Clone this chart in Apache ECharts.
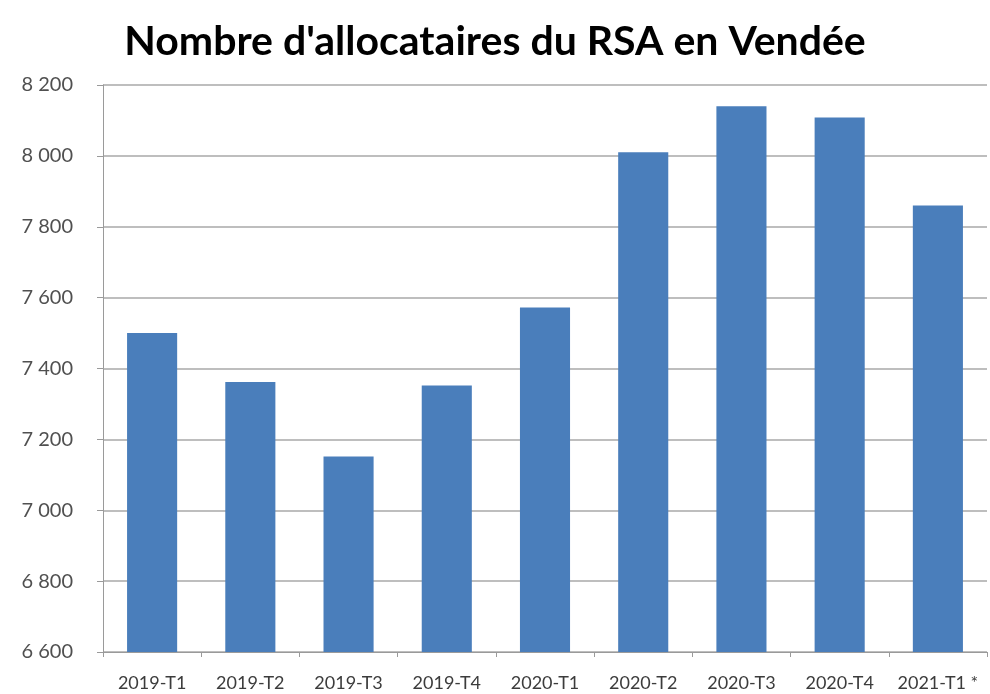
<!DOCTYPE html>
<html>
<head>
<meta charset="utf-8">
<script src="https://cdn.jsdelivr.net/npm/echarts@6/dist/echarts.min.js"></script>
<style>
  html, body { margin: 0; padding: 0; background: #fff; }
  #chart { width: 990px; height: 694px; }
</style>
</head>
<body>
<div id="chart"></div>
<script>
const categories = ['2019-T1', '2019-T2', '2019-T3', '2019-T4', '2020-T1', '2020-T2', '2020-T3', '2020-T4', '2021-T1 *'];
const allocataires = [7500, 7362, 7152, 7352, 7572, 8010, 8140, 8108, 7860];
const yTicks = [6600, 8200, 200];

const chart = echarts.init(document.getElementById('chart'));

function fmt(v) {
    const s = String(v);
    return s.length > 3 ? s.slice(0, s.length - 3) + ' ' + s.slice(-3) : s;
}

const option = {
    animation: false,
    title: {
        text: "Nombre d'allocataires du RSA en Vendée",
        left: 'center',
        top: 16,
        textStyle: {
            fontFamily: 'Lato',
            fontWeight: 'bold',
            fontSize: 41,
            color: '#000'
        }
    },
    grid: { left: 103, right: 3, top: 85, bottom: 42 },
    xAxis: {
        type: 'category',
        data: categories,
        axisLine: { lineStyle: { color: '#9a9a9a', width: 1 } },
        axisTick: { show: true, length: 5, lineStyle: { color: '#9a9a9a' } },
        axisLabel: {
            color: '#3c3c3c',
            fontFamily: 'Lato',
            fontSize: 18,
            margin: 22,
            interval: 0
        }
    },
    yAxis: {
        type: 'value',
        min: yTicks[0],
        max: yTicks[1],
        interval: yTicks[2],
        axisLine: { show: true, lineStyle: { color: '#9a9a9a', width: 1 } },
        axisTick: { show: true, length: 6, lineStyle: { color: '#9a9a9a' } },
        splitLine: { lineStyle: { color: '#a8a8a8', width: 1.5 } },
        axisLabel: {
            color: '#505050',
            fontFamily: 'Lato',
            fontSize: 20,
            margin: 30,
            formatter: fmt
        }
    },
    series: [
        {
            name: 'Allocataires',
            type: 'bar',
            data: allocataires,
            barWidth: '51%',
            itemStyle: { color: '#4a7ebb' }
        }
    ]
};
chart.setOption(option);
</script>
</body>
</html>
